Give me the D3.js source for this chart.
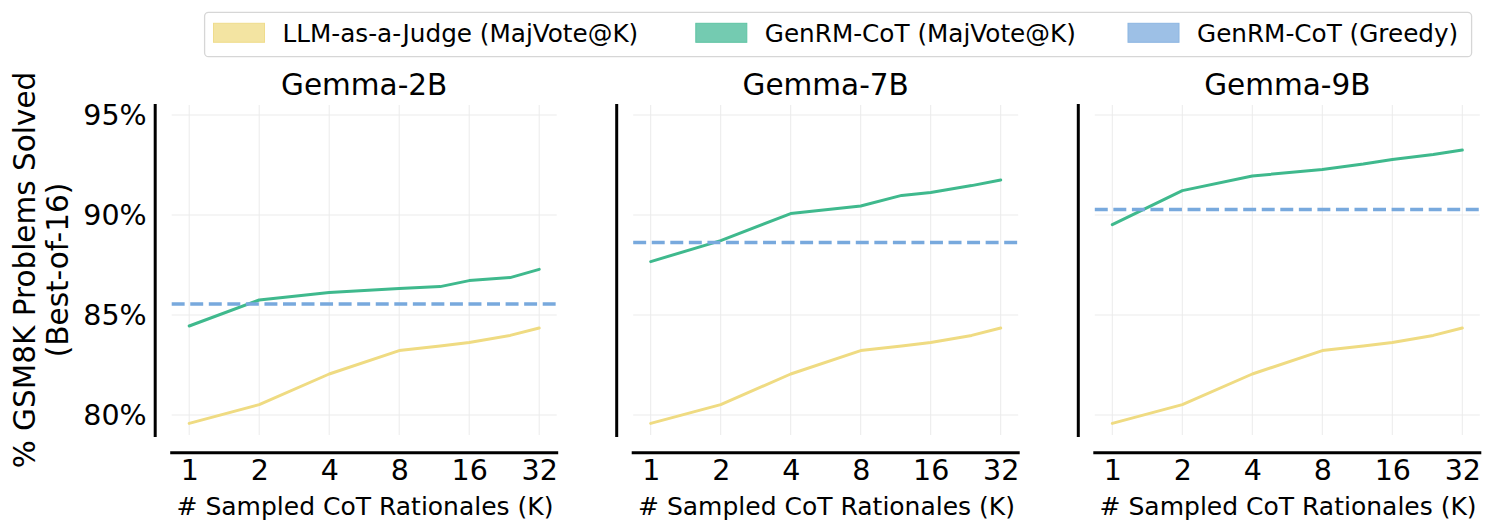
<!DOCTYPE html>
<html>
<head>
<meta charset="utf-8">
<script src="https://cdn.jsdelivr.net/npm/d3@7"></script>
<style>
  html, body { margin: 0; padding: 0; background: #ffffff; }
  svg { display: block; font-family: "DejaVu Sans", sans-serif; }
</style>
</head>
<body>
<svg id="chart" width="1494" height="532"></svg>
<script>
// ---------------- DATA ----------------
const kValues = [1, 2, 4, 8, 12, 16, 24, 32];
const xTickValues = [1, 2, 4, 8, 16, 32];
const yTickValues = [80, 85, 90, 95];
const models = ["Gemma-2B", "Gemma-7B", "Gemma-9B"];
const seriesNames = ["LLM-as-a-Judge (MajVote@K)", "GenRM-CoT (MajVote@K)", "GenRM-CoT (Greedy)"];

const judge2B = [79.58, 80.52, 82.05, 83.22, 83.45, 83.62, 83.98, 84.35];
const judge7B = [79.58, 80.52, 82.05, 83.22, 83.45, 83.62, 83.98, 84.35];
const judge9B = [79.58, 80.52, 82.05, 83.22, 83.45, 83.62, 83.98, 84.35];

const genrm2B = [84.45, 85.75, 86.12, 86.32, 86.42, 86.72, 86.87, 87.28];
const genrm7B = [87.67, 88.72, 90.07, 90.45, 90.98, 91.13, 91.47, 91.75];
const genrm9B = [89.52, 91.22, 91.95, 92.28, 92.55, 92.78, 93.02, 93.25];

const greedyValues = [85.55, 88.63, 90.28];

const judgeSeries = [judge2B, judge7B, judge9B];
const genrmSeries = [genrm2B, genrm7B, genrm9B];

// ---------------- STYLE / LAYOUT ----------------
const colJudge = "#efdb82", colGenrm = "#3fb98d", colGreedy = "#78a9dd";
const patchFill = ["#f3e4a2", "#74cbb1", "#9dc0e6"];
const patchEdge = ["#efdc8c", "#5ec3a3", "#8cb6e2"];
const panelLefts = [171.7, 633.2, 1094.8];
const axW = 385, axTop = 105, axBottom = 435;
const xPad = 17.5, spineOffset = 17;

const svg = d3.select("#chart");

const y = d3.scaleLinear().domain([79, 95.5]).range([axBottom, axTop]);

models.forEach((name, i) => {
  const L = panelLefts[i];
  const x = d3.scaleLog().base(2).domain([1, 32]).range([L + xPad, L + axW - xPad]);
  const g = svg.append("g");

  // grid
  g.selectAll(".vg").data(xTickValues).enter().append("line")
    .attr("x1", d => x(d)).attr("x2", d => x(d))
    .attr("y1", axTop).attr("y2", axBottom)
    .attr("stroke", "#ebebeb").attr("stroke-width", 1);
  g.selectAll(".hg").data(yTickValues).enter().append("line")
    .attr("x1", L).attr("x2", L + axW)
    .attr("y1", d => y(d)).attr("y2", d => y(d))
    .attr("stroke", "#ebebeb").attr("stroke-width", 1);

  // left axis (offset spine)
  const yAxis = d3.axisLeft(y).tickValues(yTickValues).tickSize(0).tickSizeOuter(0).tickPadding(8)
    .tickFormat(i === 0 ? (d => d + "%") : (() => ""));
  const ya = g.append("g").attr("transform", `translate(${L - spineOffset},0)`).call(yAxis);
  ya.select(".domain").attr("stroke", "#000").attr("stroke-width", 3).attr("stroke-linecap", "square");
  ya.selectAll("text").attr("font-size", 28.5).attr("fill", "#000").attr("font-family", "DejaVu Sans");

  // bottom axis (offset spine)
  const xAxis = d3.axisBottom(x).tickValues(xTickValues).tickSize(0).tickSizeOuter(0).tickPadding(7)
    .tickFormat(d3.format("d"));
  const xa = g.append("g").attr("transform", `translate(0,${axBottom + spineOffset + 0.7})`).call(xAxis);
  xa.select(".domain").remove();
  xa.append("line").attr("x1", L).attr("x2", L + axW).attr("y1", 0).attr("y2", 0)
    .attr("stroke", "#000").attr("stroke-width", 3).attr("stroke-linecap", "square");
  xa.selectAll("text").attr("font-size", 28.5).attr("fill", "#000").attr("font-family", "DejaVu Sans");

  // lines
  const line = d3.line().x((d, j) => x(kValues[j])).y(d => y(d));
  g.append("path").datum(judgeSeries[i]).attr("d", line)
    .attr("fill", "none").attr("stroke", colJudge).attr("stroke-width", 3)
    .attr("stroke-linejoin", "round").attr("stroke-linecap", "round");
  g.append("path").datum(genrmSeries[i]).attr("d", line)
    .attr("fill", "none").attr("stroke", colGenrm).attr("stroke-width", 3)
    .attr("stroke-linejoin", "round").attr("stroke-linecap", "round");
  g.append("line")
    .attr("x1", L).attr("x2", L + axW)
    .attr("y1", y(greedyValues[i])).attr("y2", y(greedyValues[i]))
    .attr("stroke", colGreedy).attr("stroke-width", 3.5)
    .attr("stroke-dasharray", "12.95,5.6");

  // title
  g.append("text").attr("x", L + axW / 2).attr("y", 95)
    .attr("text-anchor", "middle").attr("font-size", 29.5).attr("fill", "#000")
    .text(name);

  // x label
  g.append("text").attr("x", L + axW / 2 + 0.8).attr("y", 515)
    .attr("text-anchor", "middle").attr("font-size", 25).attr("fill", "#000")
    .text("# Sampled CoT Rationales (K)");
});

// y label (two lines)
svg.append("text").attr("transform", "translate(35,270) rotate(-90)")
  .attr("text-anchor", "middle").attr("font-size", 29.5).attr("fill", "#000")
  .text("% GSM8K Problems Solved");
svg.append("text").attr("transform", "translate(68,270) rotate(-90)")
  .attr("text-anchor", "middle").attr("font-size", 29.5).attr("fill", "#000")
  .text("(Best-of-16)");

// legend
const leg = svg.append("g");
leg.append("rect").attr("x", 204.6).attr("y", 12.3).attr("width", 1267).attr("height", 44.4)
  .attr("rx", 4).attr("fill", "#fff").attr("stroke", "#d6d6d6").attr("stroke-width", 1.3);
const patchX = [213.5, 695.8, 1128];
seriesNames.forEach((s, i) => {
  leg.append("rect").attr("x", patchX[i]).attr("y", 23.3).attr("width", 51).attr("height", 19)
    .attr("fill", patchFill[i]).attr("stroke", patchEdge[i]).attr("stroke-width", 1);
  leg.append("text").attr("x", patchX[i] + 69).attr("y", 42.3)
    .attr("font-size", 24.7).attr("fill", "#000").text(s);
});
</script>
</body>
</html>
